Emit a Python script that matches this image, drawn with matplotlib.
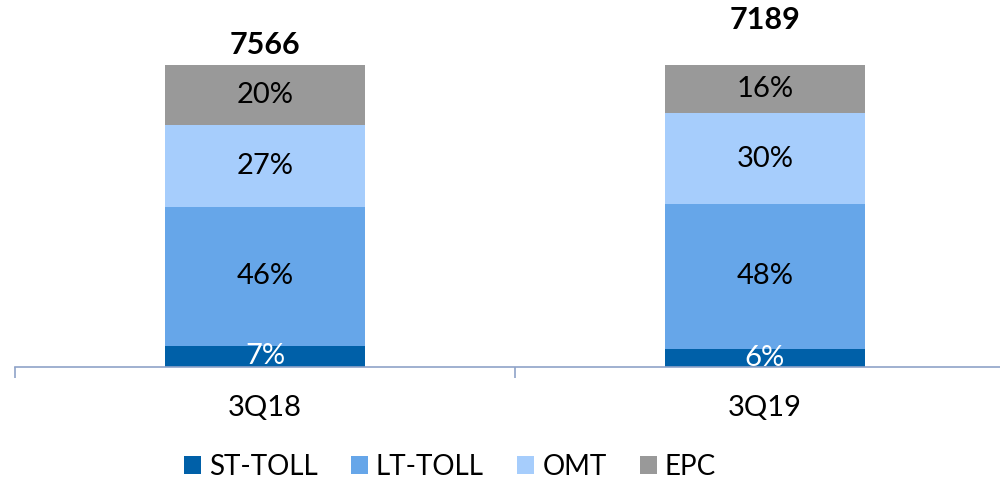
import matplotlib

matplotlib.use("Agg")
import matplotlib.pyplot as plt
from matplotlib.patches import Patch

plt.rcParams["font.family"] = ["Lato", "DejaVu Sans"]

quarters = ["3Q18", "3Q19"]
totals = [7566, 7189]
segments = ["ST-TOLL", "LT-TOLL", "OMT", "EPC"]
shares = {
    "ST-TOLL": [7, 6],
    "LT-TOLL": [46, 48],
    "OMT": [27, 30],
    "EPC": [20, 16],
}

COLORS = {
    "ST-TOLL": "#0060a8",
    "LT-TOLL": "#66a6e9",
    "OMT": "#a6cdfc",
    "EPC": "#999999",
}
LABEL_COLORS = {"ST-TOLL": "white", "LT-TOLL": "black", "OMT": "black", "EPC": "black"}
# the total labels do not sit at the same height in the original
TOTAL_OFFSETS = [20, 45]

fig = plt.figure(figsize=(10, 4.86), dpi=100)
ax = fig.add_axes([0.015, 119 / 486, 1.0, 302 / 486])

x = list(range(len(quarters)))
bottom = [0.0] * len(quarters)
for seg in segments:
    vals = shares[seg]
    ax.bar(x, vals, bottom=bottom, width=0.4, color=COLORS[seg], linewidth=0, zorder=2)
    for i, v in enumerate(vals):
        ax.text(
            x[i], bottom[i] + v / 2, f"{v}%",
            ha="center", va="center", fontsize=21,
            color=LABEL_COLORS[seg], zorder=3, clip_on=True,
        )
    bottom = [b + v for b, v in zip(bottom, vals)]

for i, t in enumerate(totals):
    ax.annotate(
        str(t), (x[i], bottom[i]), xytext=(0, TOTAL_OFFSETS[i] * 0.72),
        textcoords="offset points", ha="center", va="center",
        fontsize=22, fontweight="bold", annotation_clip=False,
    )

ax.set_xlim(-0.5, len(quarters) - 0.5)
ax.set_ylim(0, 100)
for side in ["top", "right", "left"]:
    ax.spines[side].set_visible(False)
ax.spines["bottom"].set_color("#8fa3c8")
ax.spines["bottom"].set_linewidth(1.2)
ax.set_yticks([])
ax.set_xticks([-0.5, 0.5, 1.5])
ax.set_xticklabels([])
ax.set_xticks(x, minor=True)
ax.set_xticklabels(quarters, minor=True, fontsize=21)
ax.tick_params(axis="x", which="major", length=8, color="#8fa3c8", width=1.2)
ax.tick_params(axis="x", which="minor", length=0, pad=20)

handles = [Patch(facecolor=COLORS[s], edgecolor="none", label=s) for s in segments]
fig.legend(
    handles=handles, loc="center", bbox_to_anchor=(0.45, 19 / 486), ncol=4,
    frameon=False, fontsize=20, handlelength=0.6, handleheight=0.6,
    handletextpad=0.3, columnspacing=1.2,
)

fig.savefig("out.png", dpi=100, facecolor="white")
